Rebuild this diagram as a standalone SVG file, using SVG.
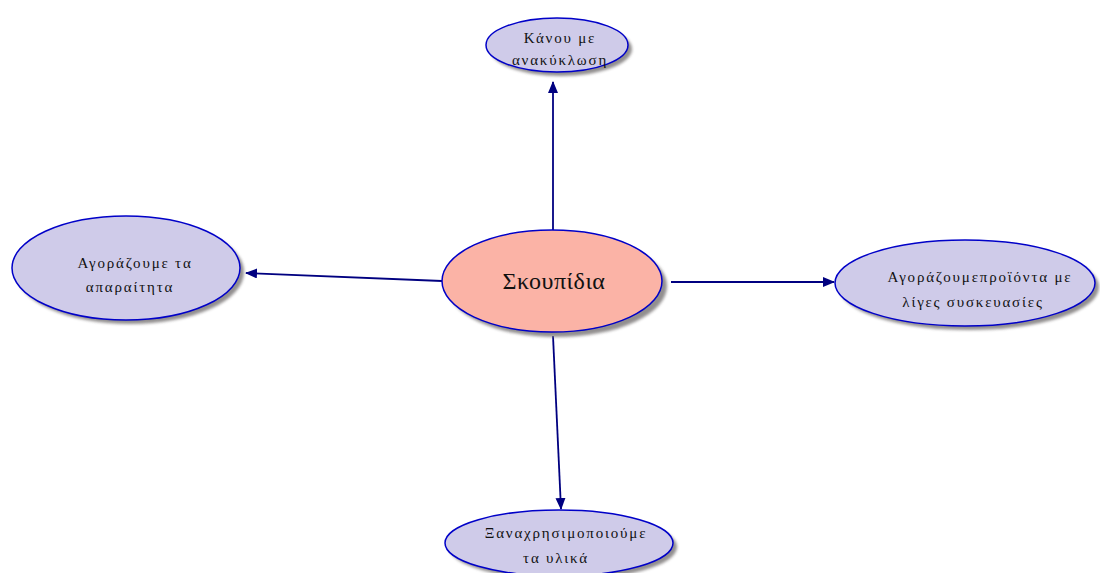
<svg xmlns="http://www.w3.org/2000/svg" width="1100" height="573" viewBox="0 0 1100 573">
<defs>
<style>
.node{fill:#cfcbe9;stroke:#0000c8;stroke-width:1.5}
.center{fill:#fbb3a6;stroke:#0000c8;stroke-width:1.5}
.shadow{fill:#7f7b7b;opacity:0.85;filter:url(#blur)}
.t{font-family:"Liberation Serif","DejaVu Serif",serif;font-size:15px;fill:#111;text-anchor:middle;letter-spacing:1.8px}
.tc{font-family:"Liberation Serif","DejaVu Serif",serif;font-size:24px;fill:#111;text-anchor:middle;letter-spacing:0.5px}
.e{stroke:#000080;stroke-width:1.8;fill:none;marker-end:url(#ah)}
</style>
<filter id="blur" x="-10%" y="-10%" width="120%" height="120%"><feGaussianBlur stdDeviation="1.5"/></filter>
<marker id="ah" markerWidth="12" markerHeight="10" refX="11" refY="5" orient="auto" markerUnits="userSpaceOnUse"><path d="M0,0 L12,5 L0,10 Z" fill="#000080"/></marker>
</defs>
<rect width="1100" height="573" fill="#fff"/>
<g id="connectors">
<line class="e" x1="553" y1="230" x2="553" y2="82"/>
<line class="e" x1="442" y1="281" x2="246" y2="273"/>
<line class="e" x1="671" y1="282" x2="834" y2="282"/>
<line class="e" x1="553" y1="336" x2="561" y2="509"/>
</g>
<g id="n-top">
<ellipse class="shadow" cx="561" cy="49" rx="71" ry="27"/>
<ellipse class="node" cx="557" cy="45" rx="71" ry="27"/>
<text class="t" x="560" y="43">Κάνου με</text>
<text class="t" x="560" y="65">ανακύκλωση</text>
</g>
<g id="n-left">
<ellipse class="shadow" cx="130" cy="272" rx="114" ry="52"/>
<ellipse class="node" cx="126" cy="268" rx="114" ry="52"/>
<text class="t" x="135" y="268">Αγοράζουμε τα</text>
<text class="t" x="130" y="292">απαραίτητα</text>
</g>
<g id="n-center">
<ellipse class="shadow" cx="557" cy="286" rx="110" ry="51"/>
<ellipse class="center" cx="552" cy="281" rx="110" ry="51"/>
<text class="tc" x="554" y="289">Σκουπίδια</text>
</g>
<g id="n-right">
<ellipse class="shadow" cx="969" cy="287" rx="130" ry="43"/>
<ellipse class="node" cx="965" cy="283" rx="130" ry="43"/>
<text class="t" x="980" y="282">Αγοράζουμεπροϊόντα με</text>
<text class="t" x="973" y="307">λίγες συσκευασίες</text>
</g>
<g id="n-bottom">
<ellipse class="shadow" cx="563" cy="547" rx="114" ry="33"/>
<ellipse class="node" cx="559" cy="543" rx="114" ry="33"/>
<text class="t" x="566" y="538">Ξαναχρησιμοποιούμε</text>
<text class="t" x="556" y="563">τα υλικά</text>
</g>
</svg>
